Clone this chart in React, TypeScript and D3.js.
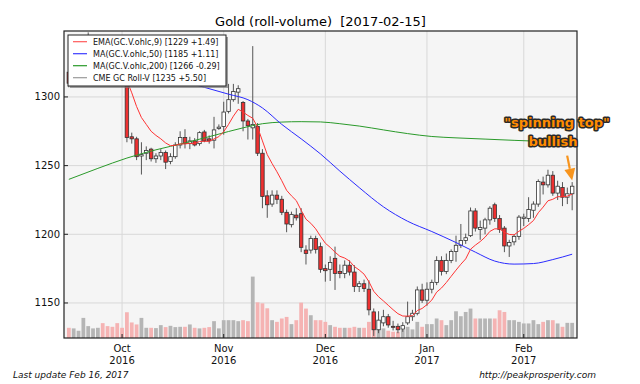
import React from "react";
import * as d3 from "d3";

// trading days shown on the chart (index based x axis, no weekend gaps)
const dates = [
  "2016-09-16", "2016-09-19", "2016-09-20", "2016-09-21", "2016-09-22", "2016-09-23", "2016-09-26", "2016-09-27", "2016-09-28", "2016-09-29", "2016-09-30",
  "2016-10-03", "2016-10-04", "2016-10-05", "2016-10-06", "2016-10-07", "2016-10-10", "2016-10-11", "2016-10-12", "2016-10-13", "2016-10-14",
  "2016-10-17", "2016-10-18", "2016-10-19", "2016-10-20", "2016-10-21", "2016-10-24", "2016-10-25", "2016-10-26", "2016-10-27", "2016-10-28", "2016-10-31",
  "2016-11-01", "2016-11-02", "2016-11-03", "2016-11-04", "2016-11-07", "2016-11-08", "2016-11-09", "2016-11-10", "2016-11-11",
  "2016-11-14", "2016-11-15", "2016-11-16", "2016-11-17", "2016-11-18", "2016-11-21", "2016-11-22", "2016-11-23", "2016-11-25", "2016-11-28", "2016-11-29", "2016-11-30",
  "2016-12-01", "2016-12-02", "2016-12-05", "2016-12-06", "2016-12-07", "2016-12-08", "2016-12-09", "2016-12-12", "2016-12-13", "2016-12-14", "2016-12-15", "2016-12-16",
  "2016-12-19", "2016-12-20", "2016-12-21", "2016-12-22", "2016-12-23", "2016-12-27", "2016-12-28", "2016-12-29", "2016-12-30",
  "2017-01-03", "2017-01-04", "2017-01-05", "2017-01-06", "2017-01-09", "2017-01-10", "2017-01-11", "2017-01-12", "2017-01-13",
  "2017-01-17", "2017-01-18", "2017-01-19", "2017-01-20", "2017-01-23", "2017-01-24", "2017-01-25", "2017-01-26", "2017-01-27", "2017-01-30", "2017-01-31",
  "2017-02-01", "2017-02-02", "2017-02-03", "2017-02-06", "2017-02-07", "2017-02-08", "2017-02-09", "2017-02-10", "2017-02-13", "2017-02-14", "2017-02-15",
];

// [open, high, low, close]
const ohlc = [
  [1318, 1321, 1307, 1310], [1310, 1318, 1308, 1316], [1316, 1320, 1312, 1318], [1318, 1334, 1314, 1326],
  [1326, 1347, 1325, 1337], [1337, 1344, 1334, 1341], [1337, 1345, 1334, 1340], [1340, 1341, 1324, 1327],
  [1327, 1331, 1318, 1322], [1324, 1328, 1315, 1320], [1320, 1327, 1312, 1317], [1317, 1321, 1310, 1313],
  [1313, 1316, 1267, 1270.5], [1271, 1274, 1266, 1269.5], [1269.5, 1271, 1254, 1256.5], [1257, 1267, 1243.5, 1258],
  [1259, 1264, 1254, 1261], [1262, 1263, 1253, 1255], [1255, 1259, 1252, 1257], [1257, 1262, 1254, 1259.5],
  [1259.5, 1261, 1247.5, 1252.5], [1253, 1259, 1251, 1256.5], [1256.5, 1267, 1255, 1265], [1265, 1275, 1262.5, 1270.5],
  [1270.5, 1276.5, 1262.5, 1266], [1266, 1271, 1262, 1268], [1268, 1270, 1264, 1265], [1266, 1275, 1264.5, 1274],
  [1274.5, 1276, 1267, 1268], [1269.5, 1272, 1266, 1268], [1268.5, 1285.5, 1262.5, 1276], [1277, 1280, 1276, 1278],
  [1278.5, 1296.5, 1272.5, 1289], [1289.5, 1309.5, 1288, 1298], [1298, 1309.5, 1296.5, 1304], [1303.5, 1308.5, 1295, 1306],
  [1296, 1297, 1275, 1282.5], [1282.5, 1284, 1269, 1279], [1277.5, 1337, 1269, 1280], [1278.5, 1281, 1257, 1259],
  [1259, 1262, 1219, 1227.5], [1228, 1232, 1212, 1221.5], [1222, 1232, 1220, 1228.5], [1228.5, 1232, 1222, 1225.5],
  [1225.5, 1228, 1214, 1216], [1216, 1218, 1201.5, 1207.5], [1207, 1216.5, 1205, 1214.5], [1214, 1219, 1210, 1212],
  [1215, 1219, 1187, 1190.5], [1188.5, 1192, 1178, 1186], [1188.5, 1199, 1186, 1197], [1197, 1199, 1186, 1189],
  [1191, 1194, 1172, 1174.5], [1175, 1178, 1165.5, 1173.5], [1174.5, 1184, 1166, 1179.5], [1182.5, 1191, 1159.5, 1171.5],
  [1173, 1178, 1168, 1171.5], [1171.5, 1181, 1168, 1177.5], [1177.5, 1181, 1170, 1172.5], [1172.5, 1177.5, 1158, 1162],
  [1162, 1166, 1158, 1164], [1164, 1167, 1158, 1160.5], [1160, 1166.5, 1141, 1145], [1143.5, 1146, 1126, 1130.5],
  [1130.5, 1144, 1128, 1137.5], [1135.5, 1145, 1133, 1140], [1140, 1142, 1132, 1134], [1133, 1137, 1130, 1132.5],
  [1133, 1135, 1128, 1130.5], [1131, 1136, 1129, 1133.5], [1135.5, 1151, 1134, 1140], [1140, 1145, 1137, 1142.5],
  [1142.5, 1162, 1141, 1159.5], [1159.5, 1164, 1150, 1152], [1152, 1165, 1148, 1160], [1160, 1167, 1157, 1165],
  [1165, 1184, 1163, 1181], [1181, 1184, 1170, 1173], [1173, 1186, 1171, 1181], [1181, 1189, 1179, 1187.5],
  [1187.5, 1199, 1180, 1192], [1192, 1207.5, 1190, 1195.5], [1195.5, 1200.5, 1193, 1197.5], [1199, 1219.5, 1198, 1217],
  [1217, 1219, 1202, 1204.5], [1203.5, 1210, 1196, 1205], [1204.5, 1212, 1200, 1210.5], [1210.5, 1220.5, 1207, 1219],
  [1221.5, 1223, 1209, 1211.5], [1211.5, 1214, 1201, 1203.5], [1204.5, 1206, 1187, 1191.5], [1191.5, 1196, 1183.5, 1194],
  [1194.5, 1200, 1192, 1198.5], [1198.5, 1214, 1196, 1212.5], [1211.5, 1215, 1206, 1212.5], [1211.5, 1227, 1209, 1218],
  [1217.5, 1224, 1212, 1222], [1222, 1240, 1220, 1238.5], [1238, 1242, 1229, 1236], [1236, 1247, 1234, 1243],
  [1243, 1246, 1228, 1230], [1230, 1239, 1225, 1235], [1234, 1238, 1220.5, 1227], [1227, 1234, 1222, 1229.5],
  [1229.5, 1238, 1217.5, 1235],
];

// volume in thousands of contracts
const volumes = [
  103, 97, 73, 203, 120, 97, 103, 150, 120, 113, 150, 103, 260, 157, 137, 203, 103, 103, 100, 130,
  110, 123, 110, 113, 113, 137, 103, 97, 103, 110, 170, 97, 180, 180, 180, 170, 180, 170, 620, 360,
  350, 300, 180, 163, 197, 213, 140, 180, 357, 297, 230, 180, 180, 163, 130, 113, 103, 103, 103, 113,
  103, 103, 163, 230, 87, 97, 73, 63, 63, 80, 113, 87, 163, 113, 140, 140, 197, 180, 130, 180,
  270, 220, 263, 297, 197, 197, 197, 197, 197, 280, 263, 180, 180, 163, 147, 147, 180, 140, 163, 180,
  180, 147, 113, 153, 153,
];

const ema9 = [
  1322, 1320.8, 1320.2, 1321.4, 1324.5, 1327.8, 1329.8, 1329.3, 1327.8, 1327.1, 1325, 1322.6, 1312, 1303, 1293,
  1285, 1280, 1275, 1272, 1269.5, 1266.5, 1264.5, 1264.8, 1265.8, 1265.8, 1266.3, 1266, 1267.6, 1267.7, 1267.7,
  1269.4, 1271.1, 1274.7, 1280, 1286, 1291, 1289, 1286.5, 1284.5, 1278, 1268, 1258, 1251.5, 1245.5, 1239,
  1232, 1228, 1224.5, 1217.5, 1211, 1208, 1204, 1198.5, 1193.5, 1190.5, 1187, 1184, 1182.7, 1180.5, 1176.5,
  1174, 1171, 1165.5, 1158.5, 1154.5, 1151.5, 1148.3, 1145.1, 1142.2, 1140.5, 1140.4, 1140.8, 1144.5, 1146, 1148.8,
  1152.1, 1157.9, 1160.9, 1164.9, 1169.4, 1173.9, 1178.2, 1182.1, 1189.1, 1192.1, 1194.7, 1197.9, 1202.1, 1204, 1203.9,
  1201.4, 1199.9, 1199.6, 1202.2, 1204.3, 1207, 1210, 1215.7, 1219.8, 1224.4, 1225.5, 1227.4, 1227.3, 1227.8, 1229.2,
];

// moving averages at these day indices
const ma50Idx = [0, 6, 12, 18, 24, 28, 33, 37, 40, 44, 48, 52, 56, 60, 65, 70, 75, 80, 84, 88, 92, 96, 100, 104];
const ma50Val = [1333, 1331, 1326, 1318, 1311, 1307, 1302, 1298, 1292, 1280, 1269.5, 1258.5, 1246, 1234, 1220, 1209.5, 1202, 1194, 1187, 1180.5, 1178.3, 1178.7, 1181.6, 1185.5];
const ma200Idx = [0, 6, 12, 18, 24, 30, 36, 40, 44, 48, 52, 56, 60, 65, 70, 75, 80, 86, 92, 98, 104];
const ma200Val = [1240, 1248, 1255.5, 1261.5, 1266.5, 1272, 1277.5, 1280.5, 1281.7, 1282, 1281.8, 1280.5, 1278.8, 1276, 1273.3, 1271.2, 1270.2, 1269.3, 1268.4, 1267.6, 1266.5];

const priceTicks = [1150, 1200, 1250, 1300];
const monthNames = ["Jan", "Feb", "Mar", "Apr", "May", "Jun", "Jul", "Aug", "Sep", "Oct", "Nov", "Dec"];

const legendLabels = [
  "EMA(GC.V.ohlc,9) [1229 +1.49]",
  "MA(GC.V.ohlc,50) [1185 +1.11]",
  "MA(GC.V.ohlc,200) [1266 -0.29]",
  "CME GC Roll-V [1235 +5.50]",
];
const legendColors = ["#ff5a5a", "#3b3bff", "#2a9a2a", "#9a9a9a"];

const FONT = "DejaVu Sans, Verdana, sans-serif";

const App = () => {
  const margin = { left: 64, right: 577, top: 31, bottom: 338 };

  const x = d3.scaleLinear().domain([-1, 105]).range([margin.left, margin.right]);
  const y = d3.scaleLinear().domain([1124.5, 1348]).range([margin.bottom, margin.top]);
  const v = d3.scaleLinear().domain([0, 3100]).range([margin.bottom, margin.top]);

  const slot = x(1) - x(0);
  const bodyW = slot * 0.72;
  const volW = slot * 0.78;

  // first trading day of each month -> x tick
  const monthTicks = dates
    .map((d, i) => ({ d, i }))
    .filter(({ d, i }) => i > 0 && d.slice(5, 7) !== dates[i - 1].slice(5, 7))
    .map(({ d, i }) => ({
      i,
      month: monthNames[+d.slice(5, 7) - 1],
      year: d.slice(0, 4),
    }));

  const emaLine = d3
    .line<number>()
    .x((_, i) => x(i))
    .y((d) => y(d))(ema9);
  const ma50Line = d3
    .line<number>()
    .curve(d3.curveMonotoneX)
    .x((_, k) => x(ma50Idx[k]))
    .y((d) => y(d))(ma50Val);
  const ma200Line = d3
    .line<number>()
    .curve(d3.curveMonotoneX)
    .x((_, k) => x(ma200Idx[k]))
    .y((d) => y(d))(ma200Val);

  // annotation arrow pointing at the last candle
  const last = ohlc.length - 1;
  const tipX = x(last);
  const tipY = y(ohlc[last][1]) - 1.5;
  const startX = tipX - 5;
  const startY = tipY - 25;
  const dx = tipX - startX;
  const dy = tipY - startY;
  const len = Math.hypot(dx, dy);
  const ux = dx / len;
  const uy = dy / len;
  const headL = 12;
  const headW = 5.5;
  const bx = tipX - ux * headL;
  const by = tipY - uy * headL;
  const head = `M${tipX},${tipY}L${bx + uy * headW},${by - ux * headW}L${bx - uy * headW},${by + ux * headW}Z`;

  return (
    <svg
      width={640}
      height={384}
      style={{ position: "absolute", left: 0, top: 0, background: "#fff" }}
      fontFamily={FONT}
    >
      <defs>
        <clipPath id="plotClip">
          <rect x={margin.left} y={margin.top} width={margin.right - margin.left} height={margin.bottom - margin.top} />
        </clipPath>
      </defs>

      <text x={(margin.left + margin.right) / 2} y={26} textAnchor="middle" fontSize={13} style={{ whiteSpace: "pre" }}>
        {"Gold (roll-volume)  [2017-02-15]"}
      </text>

      <rect x={margin.left} y={margin.top} width={margin.right - margin.left} height={margin.bottom - margin.top} fill="#f5f5f5" />

      {/* grid */}
      {priceTicks.map((t) => (
        <line key={"gy" + t} x1={margin.left} x2={margin.right} y1={y(t)} y2={y(t)} stroke="#d8d8d8" strokeWidth={1} />
      ))}
      {monthTicks.map((t) => (
        <line key={"gx" + t.i} x1={x(t.i)} x2={x(t.i)} y1={margin.top} y2={margin.bottom} stroke="#d8d8d8" strokeWidth={1} />
      ))}

      <g clipPath="url(#plotClip)">
        {/* volume */}
        {volumes.map((vol, i) => {
          const up = ohlc[i][3] >= ohlc[i][0];
          return (
            <rect
              key={"v" + i}
              x={x(i) - volW / 2}
              y={v(vol)}
              width={volW}
              height={margin.bottom - v(vol)}
              fill={up ? "#b5b5b5" : "#f5b3b3"}
            />
          );
        })}

        {/* candles */}
        {ohlc.map(([o, h, l, c], i) => {
          const up = c >= o;
          const top = y(Math.max(o, c));
          const bot = y(Math.min(o, c));
          return (
            <g key={"c" + i}>
              <line x1={x(i)} x2={x(i)} y1={y(h)} y2={y(l)} stroke="#555" strokeWidth={1} />
              <rect
                x={x(i) - bodyW / 2}
                y={top}
                width={bodyW}
                height={Math.max(bot - top, 1)}
                fill={up ? "#ffffff" : "#ee3030"}
                stroke="#333"
                strokeWidth={0.8}
              />
            </g>
          );
        })}

        <path d={ma200Line || ""} fill="none" stroke="#2a9a2a" strokeWidth={1} />
        <path d={ma50Line || ""} fill="none" stroke="#2b2bff" strokeWidth={1} />
        <path d={emaLine || ""} fill="none" stroke="#ff3333" strokeWidth={1} />
      </g>

      {/* frame */}
      <rect
        x={margin.left}
        y={margin.top}
        width={margin.right - margin.left}
        height={margin.bottom - margin.top}
        fill="none"
        stroke="#222"
        strokeWidth={1.2}
      />

      {/* y axis */}
      {priceTicks.map((t) => (
        <g key={"yt" + t}>
          <line x1={margin.left} x2={margin.left + 4} y1={y(t)} y2={y(t)} stroke="#222" />
          <text x={margin.left - 4} y={y(t)} dy="0.35em" textAnchor="end" fontSize={10} fill="#111">
            {t}
          </text>
        </g>
      ))}

      {/* x axis */}
      {monthTicks.map((t) => (
        <g key={"xt" + t.i}>
          <line x1={x(t.i)} x2={x(t.i)} y1={margin.bottom} y2={margin.bottom - 4} stroke="#222" />
          <text x={x(t.i)} y={352} textAnchor="middle" fontSize={10} fill="#111">
            {t.month}
          </text>
          <text x={x(t.i)} y={364} textAnchor="middle" fontSize={10} fill="#111">
            {t.year}
          </text>
        </g>
      ))}

      {/* legend */}
      <rect x={70} y={37} width={158} height={51} fill="#777" opacity={0.7} />
      <rect x={68} y={35} width={158} height={51} fill="#fff" stroke="#222" strokeWidth={1} />
      {legendLabels.map((lab, k) => (
        <g key={"lg" + k}>
          <line x1={73} x2={87} y1={41.7 + k * 12} y2={41.7 + k * 12} stroke={legendColors[k]} strokeWidth={1.2} />
          <text x={93} y={41.7 + k * 12} dy="0.35em" fontSize={8} fill="#111">
            {lab}
          </text>
        </g>
      ))}

      {/* annotation */}
      <g fontWeight="bold" fontSize={13} textAnchor="middle" fill="#ff8c00" stroke="#2a2a2a" strokeWidth={3} strokeLinejoin="round" style={{ paintOrder: "stroke" }}>
        <text x={557} y={127}>{'"spinning top"'}</text>
        <text x={553} y={146}>bullish</text>
      </g>
      <line x1={startX} y1={startY} x2={bx} y2={by} stroke="#f7941d" strokeWidth={2.2} />
      <path d={head} fill="#f7941d" />

      <text x={13} y={378} fontSize={9} fontStyle="italic" fill="#111">
        Last update Feb 16, 2017
      </text>
      <text x={596} y={378} fontSize={9} fontStyle="italic" textAnchor="end" fill="#111">
        http://peakprosperity.com
      </text>
    </svg>
  );
};

export default App;
